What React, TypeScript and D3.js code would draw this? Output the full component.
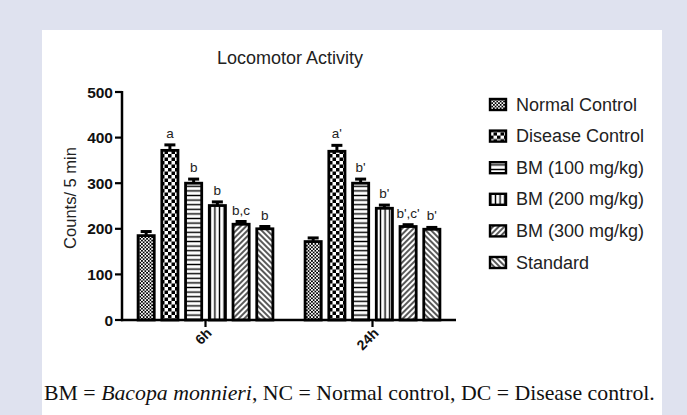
import React from 'react';
import * as d3 from 'd3';

const times = ['6h', '24h'];
const groups = ['Normal Control', 'Disease Control', 'BM (100 mg/kg)', 'BM (200 mg/kg)', 'BM (300 mg/kg)', 'Standard'];
const means6h = [185, 372, 300, 251, 210, 200];
const sem6h = [9, 12, 9, 8, 6, 5];
const means24h = [172, 370, 300, 245, 205, 199];
const sem24h = [8, 13, 9, 7, 4, 4];
const labels6h = ['', 'a', 'b', 'b', 'b,c', 'b'];
const labels24h = ['', "a'", "b'", "b'", "b',c'", "b'"];
const yTicks = [0, 100, 200, 300, 400, 500];
const patternIds = ['pNC', 'pDC', 'pH', 'pV', 'pD1', 'pD2'];

const W = 687;
const H = 415;
const FONT = 'Liberation Sans, Arial, sans-serif';

export default function App() {
  const y = d3.scaleLinear().domain([0, 500]).range([320, 92]);
  const x = d3.scaleBand<string>().domain(times).range([122, 456]).padding(0);
  const xi = d3.scaleBand<string>().domain(groups).range([-75, 75]).padding(0.32);

  const rows = times.map((t, ti) => {
    const means = ti === 0 ? means6h : means24h;
    const sems = ti === 0 ? sem6h : sem24h;
    const labs = ti === 0 ? labels6h : labels24h;
    return groups.map((g, gi) => ({ t, g, gi, v: means[gi], e: sems[gi], lab: labs[gi] }));
  }).flat();

  const cx = (t: string) => (x(t) as number) + x.bandwidth() / 2;
  const legendY = d3.scalePoint<string>().domain(groups).range([104, 262]);

  return (
    <svg width={W} height={H} style={{ position: 'absolute', left: 0, top: 0 }}>
      <defs>
        <pattern id="pNC" patternUnits="userSpaceOnUse" width={3.4} height={3.4}>
          <rect width={3.4} height={3.4} fill="#fff" />
          <rect width={1.7} height={1.7} fill="#000" />
          <rect x={1.7} y={1.7} width={1.7} height={1.7} fill="#000" />
        </pattern>
        <pattern id="pDC" patternUnits="userSpaceOnUse" width={7} height={7}>
          <rect width={7} height={7} fill="#fff" />
          <rect width={3.5} height={3.5} fill="#000" />
          <rect x={3.5} y={3.5} width={3.5} height={3.5} fill="#000" />
        </pattern>
        <pattern id="pH" patternUnits="userSpaceOnUse" width={6} height={4.6}>
          <rect width={6} height={4.6} fill="#fff" />
          <line x1={0} x2={6} y1={2.3} y2={2.3} stroke="#000" strokeWidth={1.4} />
        </pattern>
        <pattern id="pV" patternUnits="userSpaceOnUse" width={4.6} height={6} x={1}>
          <rect width={4.6} height={6} fill="#fff" />
          <line x1={2.3} x2={2.3} y1={0} y2={6} stroke="#000" strokeWidth={1.4} />
        </pattern>
        <pattern id="pD1" patternUnits="userSpaceOnUse" width={4} height={4} patternTransform="rotate(45)">
          <rect width={4} height={4} fill="#fff" />
          <line x1={2} x2={2} y1={0} y2={4} stroke="#000" strokeWidth={1.3} />
        </pattern>
        <pattern id="pD2" patternUnits="userSpaceOnUse" width={4} height={4} patternTransform="rotate(-45)">
          <rect width={4} height={4} fill="#fff" />
          <line x1={2} x2={2} y1={0} y2={4} stroke="#000" strokeWidth={1.3} />
        </pattern>
      </defs>

      <rect width={W} height={H} fill="#dfe2ef" />
      <rect x={42} y={30} width={620} height={385} fill="#fff" />

      <text x={290} y={64} textAnchor="middle" fontFamily={FONT} fontSize={18} fill="#222">Locomotor Activity</text>

      {/* bars */}
      {rows.map((d, i) => {
        const bx = cx(d.t) + (xi(d.g) as number);
        const bw = xi.bandwidth();
        const mid = bx + bw / 2;
        return (
          <g key={i}>
            <line x1={mid} x2={mid} y1={y(d.v)} y2={y(d.v + d.e)} stroke="#000" strokeWidth={3} />
            <line x1={mid - 5.5} x2={mid + 5.5} y1={y(d.v + d.e)} y2={y(d.v + d.e)} stroke="#000" strokeWidth={3} />
            <rect x={bx} y={y(d.v)} width={bw} height={y(0) - y(d.v)} fill={`url(#${patternIds[d.gi]})`} stroke="#000" strokeWidth={2.8} />
            {d.lab && (
              <text x={mid} y={y(d.v + d.e) - 7} textAnchor="middle" fontFamily={FONT} fontSize={13.5} fill="#222">{d.lab}</text>
            )}
          </g>
        );
      })}

      {/* y axis */}
      <line x1={122} x2={122} y1={y(500) - 1} y2={y(0) + 1.2} stroke="#000" strokeWidth={2.5} />
      {yTicks.map(t => (
        <g key={t}>
          <line x1={115} x2={122} y1={y(t)} y2={y(t)} stroke="#000" strokeWidth={2.2} />
          <text x={113} y={y(t) + 5.5} textAnchor="end" fontFamily={FONT} fontWeight="bold" fontSize={15.5} fill="#111">{t}</text>
        </g>
      ))}
      <text transform={`translate(76,${(y(0) + y(500)) / 2 - 8}) rotate(-90)`} textAnchor="middle" fontFamily={FONT} fontSize={16.5} fill="#222">Counts/ 5 min</text>

      {/* x axis */}
      <line x1={121} x2={456} y1={y(0)} y2={y(0)} stroke="#000" strokeWidth={2.5} />
      {times.map(t => (
        <g key={t}>
          <line x1={cx(t)} x2={cx(t)} y1={y(0)} y2={y(0) + 7} stroke="#000" strokeWidth={2.2} />
          <text transform={`translate(${cx(t) + 7},${y(0) + 14}) rotate(-45)`} textAnchor="end" fontFamily={FONT} fontWeight="bold" fontSize={14} fill="#111">{t}</text>
        </g>
      ))}

      {/* legend */}
      {groups.map((g, gi) => (
        <g key={g} transform={`translate(0,${legendY(g)})`}>
          <rect x={490} y={-5} width={16} height={11} fill={`url(#${patternIds[gi]})`} stroke="#000" strokeWidth={2.4} />
          <text x={516} y={6.5} fontFamily={FONT} fontSize={18} fill="#222">{g}</text>
        </g>
      ))}

      <text x={44} y={400} fontFamily="Liberation Serif, Times New Roman, serif" fontSize={21.8} fill="#111">
        BM = <tspan fontStyle="italic">Bacopa monnieri</tspan>, NC = Normal control, DC = Disease control.
      </text>
    </svg>
  );
}
